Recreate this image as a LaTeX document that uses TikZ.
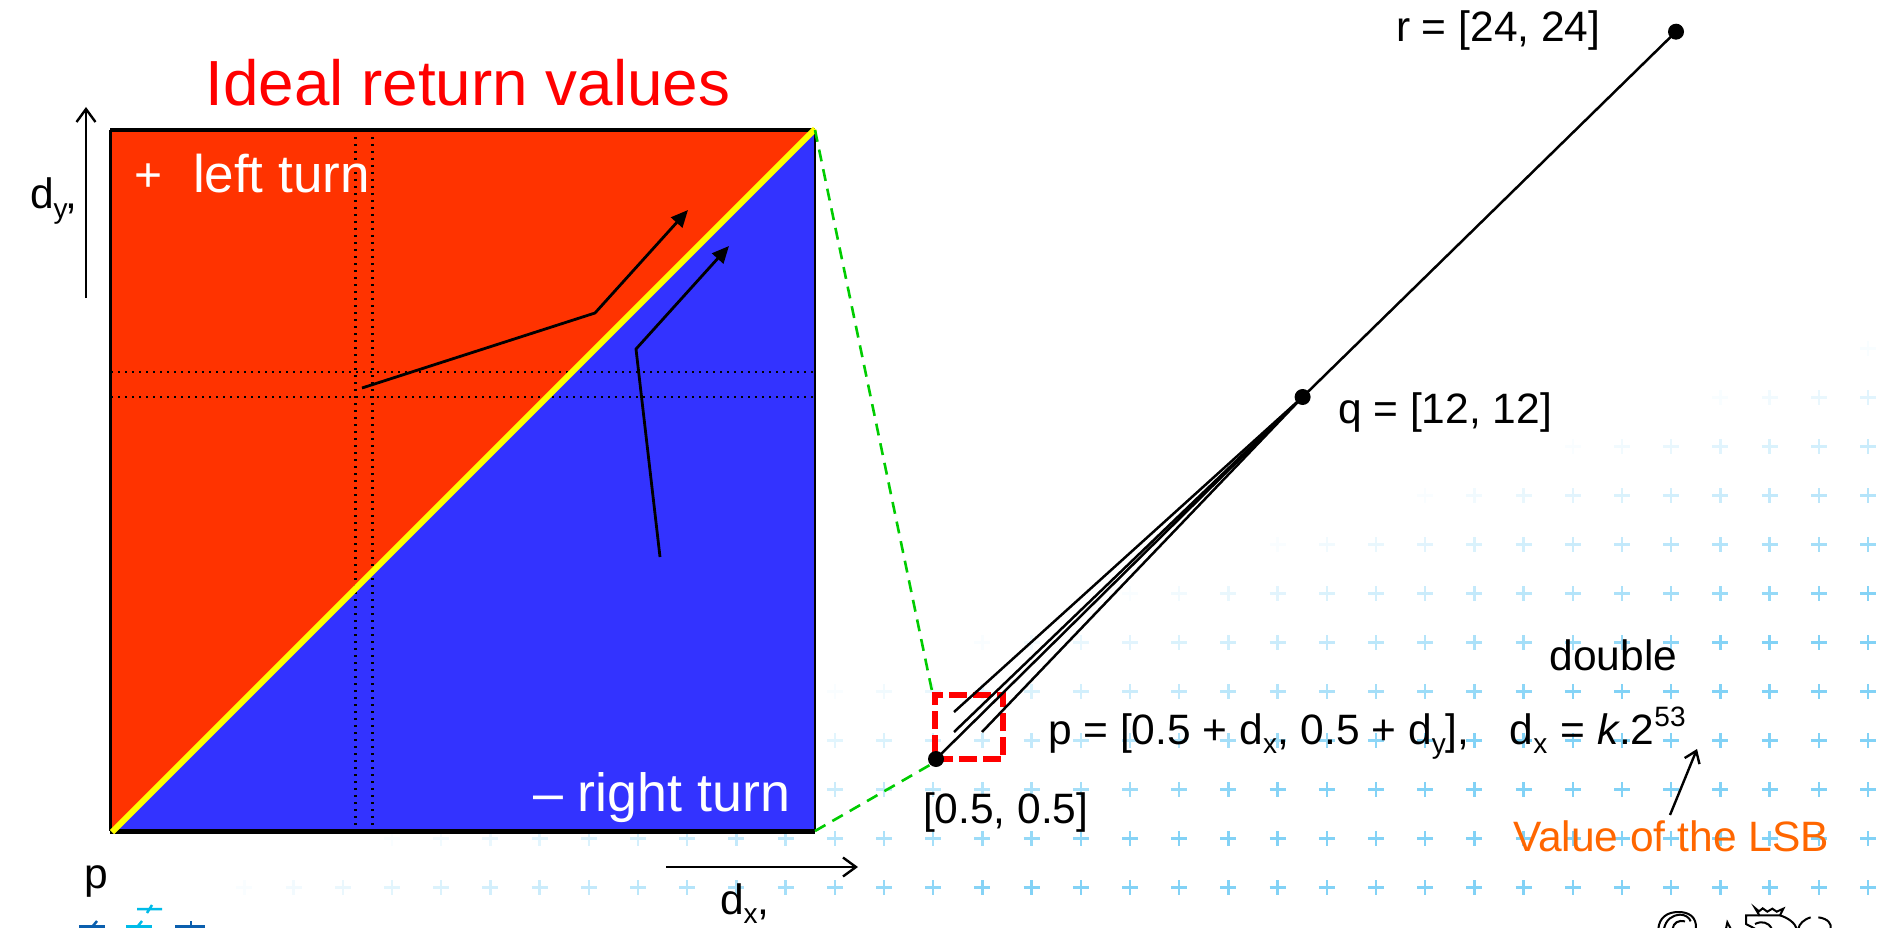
\documentclass[tikz,border=0pt]{standalone}
\usepackage{fontspec}
\setmainfont{Liberation Sans}
\usetikzlibrary{arrows.meta}
\definecolor{redfill}{HTML}{FF3300}
\definecolor{bluefill}{HTML}{3333FF}
\definecolor{hueyellow}{HTML}{FFFF00}
\definecolor{greenline}{HTML}{00CC00}
\definecolor{boxred}{HTML}{FF0000}
\definecolor{orangetxt}{HTML}{FF6600}
\definecolor{crossblue}{HTML}{82D2F6}
\definecolor{logodark}{HTML}{0B5FAE}
\definecolor{logocyan}{HTML}{00BBE8}
\newcommand{\lowsub}[1]{\raisebox{-0.22em}{\fontsize{28}{28}\selectfont #1}}
\newcommand{\highsup}[1]{\raisebox{0.42em}{\fontsize{28}{28}\selectfont #1}}
\tikzset{
  x=1pt,y=-1pt,
  lbl/.style={anchor=base west,inner sep=0pt,outer sep=0pt,font=\fontsize{42.5}{50}\selectfont},
  bigw/.style={lbl,text=white,font=\fontsize{53}{60}\selectfont},
  dotnode/.style={circle,fill=black,inner sep=0pt,minimum size=16pt},
  thinconn/.style={draw=black,line width=2.5pt},
  pathconn/.style={draw=black,line width=2.8pt,-{Triangle[length=17pt,width=15pt]}},
  axisarrow/.style={draw=black,line width=2.4pt,-{Straight Barb[length=13pt,width=19pt,line width=2.4pt]}},
  dotline/.style={draw=black,line width=2.8pt,dash pattern=on 2.4pt off 4.6pt},
  greendash/.style={draw=greenline,line width=2.6pt,dash pattern=on 12pt off 8pt},
}
\begin{document}
\begin{tikzpicture}
\useasboundingbox (0,0) rectangle (1879,928);
% background crosses
\begin{scope}
\clip (0,0) rectangle (1879,928);
\foreach \i in {0,...,36}{
  \foreach \j in {0,...,11}{
    \pgfmathsetmacro{\cx}{1868-49.2*\i}
    \pgfmathsetmacro{\cy}{887.5-49*\j}
    \pgfmathsetmacro{\ca}{min(1,(\cx+3*\cy-2870)/800)}
    \pgfmathparse{\ca>0.03?1:0}
    \ifnum\pgfmathresult=1
      \draw[crossblue,opacity=\ca,line width=2.4pt]
        (\cx-8,\cy) -- (\cx+8,\cy) (\cx,\cy-7.5) -- (\cx,\cy+7.5);
    \fi
  }
}
\end{scope}
% square
\coordinate (sqTL) at (110,130);
\coordinate (sqTR) at (815,130);
\coordinate (sqBL) at (110,831);
\coordinate (sqBR) at (815,831);
\fill[redfill] (sqTL) -- (sqTR) -- (sqBL) -- cycle;
\fill[bluefill] (sqTR) -- (sqBR) -- (sqBL) -- cycle;
\draw[black,line width=3pt] (sqTL) -- (sqBL);
\draw[black,line width=2.6pt] (sqTR) -- (sqBR);
\draw[black,line width=4.5pt] (sqTL) -- (sqTR);
\draw[black,line width=5pt] (sqBL) -- (sqBR);
% dotted grid
\coordinate (va1) at (355.5,130); \coordinate (vb1) at (355.5,830);
\coordinate (va2) at (372.5,130); \coordinate (vb2) at (372.5,830);
\coordinate (ha1) at (111,372); \coordinate (hb1) at (814,372);
\coordinate (ha2) at (111,397); \coordinate (hb2) at (814,397);
\draw[dotline] (va1) -- (vb1);
\draw[dotline] (va2) -- (vb2);
\draw[dotline] (ha1) -- (hb1);
\draw[dotline] (ha2) -- (hb2);
% diagonal
\coordinate (diagA) at (112,832);
\coordinate (diagB) at (815,129);
\draw[hueyellow,line width=6pt] (diagA) -- (diagB);
% inner arrows
\coordinate (a1s) at (362,388); \coordinate (a1c) at (595,313); \coordinate (a1t) at (688,210);
\coordinate (a2s) at (660,557); \coordinate (a2c) at (636,349); \coordinate (a2t) at (729,246);
\draw[pathconn] (a1s) -- (a1c) -- (a1t);
\draw[pathconn] (a2s) -- (a2c) -- (a2t);
% axes
\coordinate (dyS) at (86,298); \coordinate (dyE) at (86,107);
\coordinate (dxS) at (666,867); \coordinate (dxE) at (858,867);
\draw[axisarrow] (dyS) -- (dyE);
\draw[axisarrow] (dxS) -- (dxE);
% red box, then the links and dots over it
\node[draw=boxred,line width=5.5pt,dash pattern=on 18pt off 6pt,minimum width=68pt,minimum height=64pt,inner sep=0pt] (zoombox) at (969,727) {};
\node[dotnode] (pdot) at (936,759) {};
\node[dotnode] (qdot) at (1302.6,397) {};
\node[dotnode] (rdot) at (1676,31.7) {};
\coordinate (s1) at (954,712);
\coordinate (s2) at (954,732);
\coordinate (s3) at (982,732);
\draw[greendash] (sqTR) -- (zoombox.north west);
\begin{scope}[on background layer/.try]
\end{scope}
\draw[greendash] (sqBR) -- (pdot.south west);
\draw[thinconn] (pdot.center) -- (qdot.center);
\draw[thinconn] (qdot.center) -- (rdot.center);
\draw[thinconn] (s1) -- (qdot.center);
\draw[thinconn] (s2) -- (qdot.center);
\draw[thinconn] (s3) -- (qdot.center);
% texts
\node[lbl,text=boxred,font=\fontsize{63.8}{70}\selectfont] (title) at (205.5,106) {Ideal return values};
\node[bigw,font=\fontsize{48}{60}\selectfont] (plus) at (134,192) {+};
\node[bigw] (lt) at (193,193) {left turn};
\node[bigw,font=\fontsize{53.8}{60}\selectfont] (rt) at (533,811) {– right turn};
\node[lbl] (dy) at (30,209) {d\lowsub{y}\hspace{-2pt},};
\node[lbl] (pl) at (84,888) {p};
\node[lbl] (dx) at (720,914) {d\lowsub{x},};
\node[lbl] (rl) at (1396,42) {r = [24, 24]};
\node[lbl] (ql) at (1338,423) {q = [12, 12]};
\node[lbl] (pe) at (1048,744) {p = [0.5 + d\lowsub{x}, 0.5 + d\lowsub{y}],\hspace{0.67em} d\lowsub{x}\hspace{1pt} =\hspace{1pt} \textit{k}.2\highsup{53}};
\node[lbl] (db) at (1549.5,670) {double};
\node[lbl] (ph) at (923,823) {[0.5, 0.5]};
\node[lbl,text=orangetxt] (lsb) at (1513,851) {Value of the LSB};
\coordinate (lsbS) at (1670,815);
\coordinate (lsbE) at (1697,749);
\draw[draw=black,line width=2.4pt,-{Straight Barb[length=11pt,width=16pt,line width=2.4pt]}] (lsbS) -- (lsbE);
% bottom-left logo fragment
\begin{scope}
\clip (0,0) rectangle (1879,928);
\draw[logocyan,line width=2.5pt] (137,909) -- (162,909) (147,913) -- (152,905);
\draw[logodark,line width=3.5pt] (79,927) -- (105,927);
\draw[logodark,line width=2.5pt] (92,927) -- (97,921);
\draw[logocyan,line width=3.5pt] (126,926.5) -- (152,926.5);
\draw[logocyan,line width=2.5pt] (138,926) -- (142,921);
\draw[logodark,line width=3.5pt] (175,927) -- (205,927);
\draw[logodark,line width=2.5pt] (191,927) -- (191,921);
% bottom-right crest fragment
\begin{scope}[shift={(1640,898)},x=0.3333pt,y=-0.3333pt,line width=2pt,black]
\draw (55,92) .. controls (58,60) and (80,42) .. (115,42) .. controls (145,42) and (170,55) .. (168,92);
\draw (72,92) .. controls (78,65) and (95,52) .. (120,50) .. controls (135,50) and (148,58) .. (152,70);
\draw (98,92) .. controls (100,75) and (115,65) .. (135,70);
\draw (258,92) -- (262,73) -- (272,92);
\draw (345,30) -- (357,40) -- (368,31) -- (382,41) -- (397,32) -- (410,41) -- (430,32) -- (420,52) -- (358,52) -- cycle;
\draw (358,52) -- (318,52) -- (318,78) -- (345,92);
\draw (345,78) .. controls (365,68) and (385,72) .. (395,92);
\draw (420,52) .. controls (445,60) and (465,75) .. (470,92);
\draw (512,58) .. controls (490,65) and (478,78) .. (475,92);
\draw (535,58) .. controls (565,62) and (575,78) .. (572,92);
\end{scope}
\end{scope}
\end{tikzpicture}
\end{document}
